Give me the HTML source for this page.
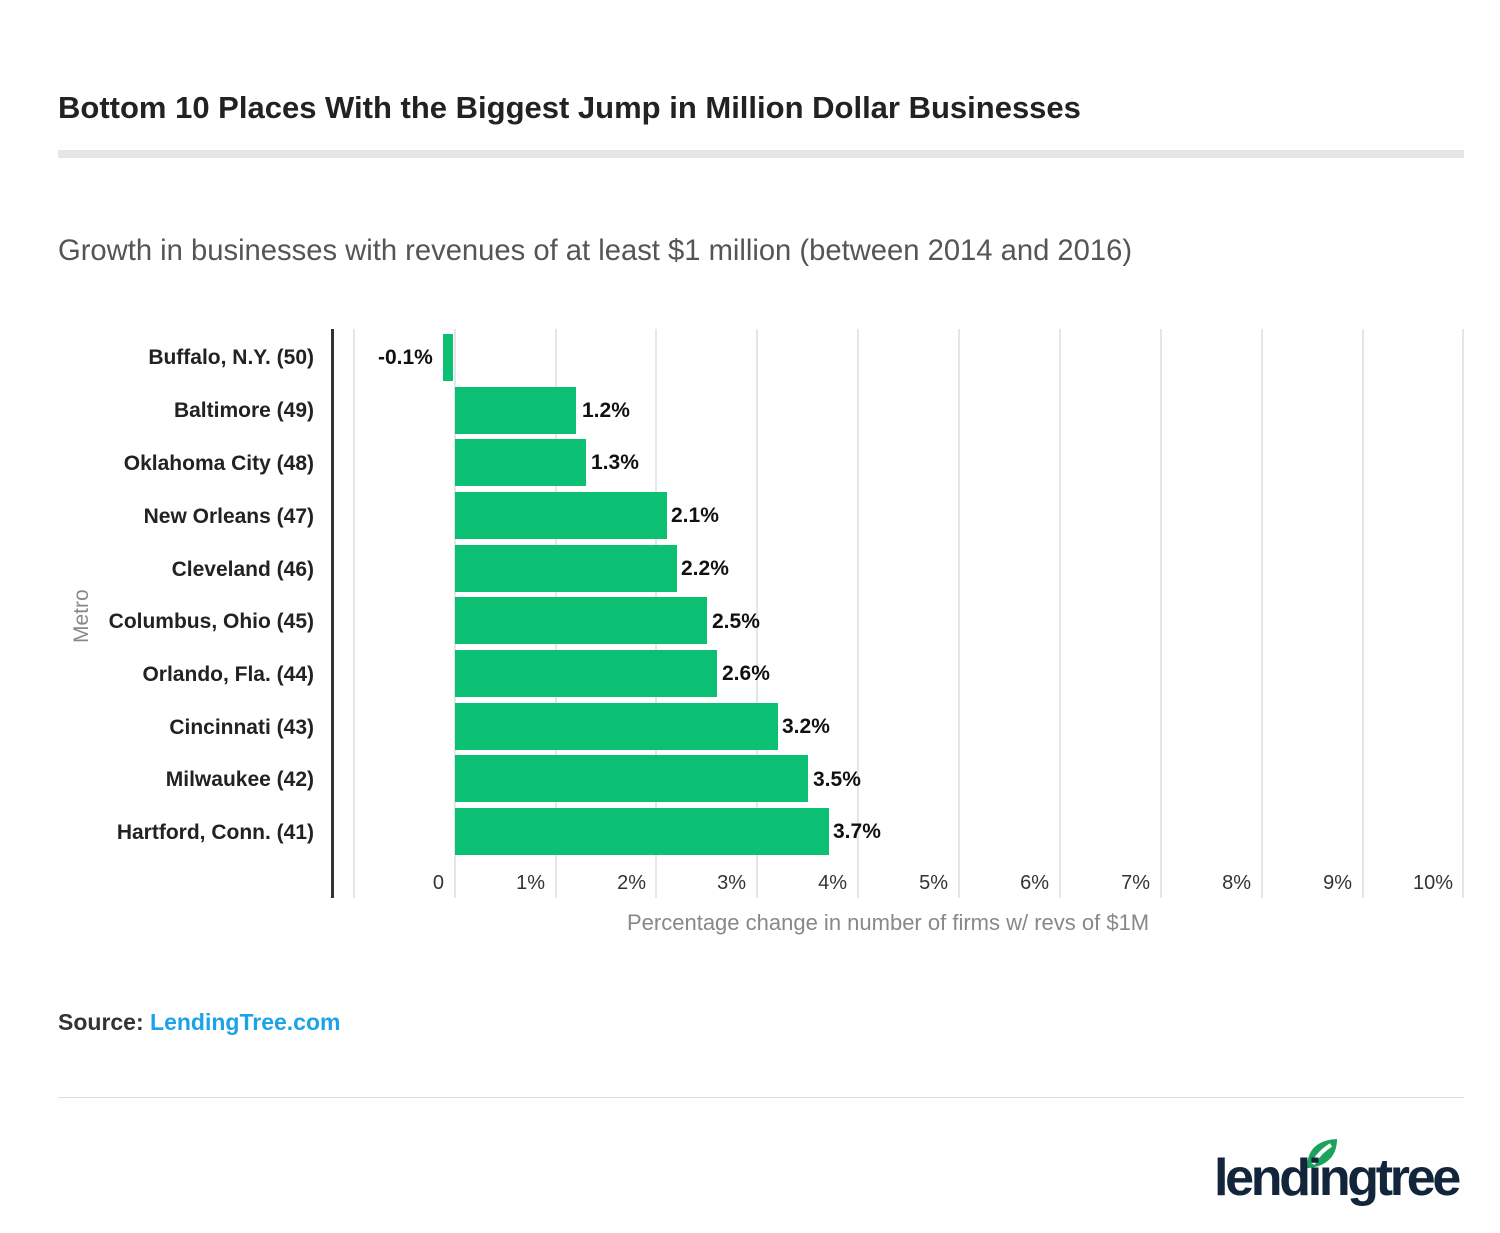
<!DOCTYPE html>
<html><head><meta charset="utf-8"><style>
body{margin:0;width:1500px;height:1233px;background:#fff;font-family:"Liberation Sans",Arial,sans-serif;position:relative;overflow:hidden}
.a{position:absolute;white-space:nowrap}
.lbl{position:absolute;right:1186px;font-size:21px;color:#222;font-weight:bold;text-align:right;width:300px}
.bar{position:absolute;background:#0bbf73;height:47px}
.val{position:absolute;font-size:21px;color:#111;font-weight:bold}
.g{position:absolute;top:329px;height:569px;width:2px;background:#e6e6e6}
.t{position:absolute;top:872px;font-size:20px;color:#333;text-align:right;width:60px}
</style></head><body>
<div class="a" style="left:58px;top:90px;font-size:31px;font-weight:bold;color:#222">Bottom 10 Places With the Biggest Jump in Million Dollar Businesses</div>
<div class="a" style="left:58px;top:150px;width:1406px;height:8px;background:#e6e6e6"></div>
<div class="a" style="left:58px;top:235px;font-size:29.2px;color:#555">Growth in businesses with revenues of at least $1 million (between 2014 and 2016)</div>
<div class="g" style="left:353px"></div><div class="g" style="left:454px"></div><div class="g" style="left:555px"></div><div class="g" style="left:655px"></div><div class="g" style="left:756px"></div><div class="g" style="left:857px"></div><div class="g" style="left:958px"></div><div class="g" style="left:1059px"></div><div class="g" style="left:1160px"></div><div class="g" style="left:1261px"></div><div class="g" style="left:1362px"></div><div class="g" style="left:1462px"></div>
<div class="a" style="left:331px;top:329px;width:3px;height:569px;background:#333"></div>
<div class="t" style="left:384px">0</div><div class="t" style="left:485px">1%</div><div class="t" style="left:586px">2%</div><div class="t" style="left:686px">3%</div><div class="t" style="left:787px">4%</div><div class="t" style="left:888px">5%</div><div class="t" style="left:989px">6%</div><div class="t" style="left:1090px">7%</div><div class="t" style="left:1191px">8%</div><div class="t" style="left:1292px">9%</div><div class="t" style="left:1393px">10%</div>
<div class="a" style="left:627px;top:910px;font-size:22px;color:#888">Percentage change in number of firms w/ revs of $1M</div>
<div class="a" style="left:70px;top:643px;font-size:21px;color:#888;transform:rotate(-90deg);transform-origin:0 0">Metro</div>

<div class="lbl" style="top:346px">Buffalo, N.Y. (50)</div>
<div class="bar" style="left:443px;top:334px;width:10px"></div><div class="val" style="left:378px;top:346px">-0.1%</div>
<div class="lbl" style="top:399px">Baltimore (49)</div>
<div class="bar" style="left:455px;top:387px;width:121px"></div><div class="val" style="left:582px;top:399px">1.2%</div>
<div class="lbl" style="top:452px">Oklahoma City (48)</div>
<div class="bar" style="left:455px;top:439px;width:131px"></div><div class="val" style="left:591px;top:451px">1.3%</div>
<div class="lbl" style="top:505px">New Orleans (47)</div>
<div class="bar" style="left:455px;top:492px;width:212px"></div><div class="val" style="left:671px;top:504px">2.1%</div>
<div class="lbl" style="top:558px">Cleveland (46)</div>
<div class="bar" style="left:455px;top:545px;width:222px"></div><div class="val" style="left:681px;top:557px">2.2%</div>
<div class="lbl" style="top:610px">Columbus, Ohio (45)</div>
<div class="bar" style="left:455px;top:597px;width:252px"></div><div class="val" style="left:712px;top:610px">2.5%</div>
<div class="lbl" style="top:663px">Orlando, Fla. (44)</div>
<div class="bar" style="left:455px;top:650px;width:262px"></div><div class="val" style="left:722px;top:662px">2.6%</div>
<div class="lbl" style="top:716px">Cincinnati (43)</div>
<div class="bar" style="left:455px;top:703px;width:323px"></div><div class="val" style="left:782px;top:715px">3.2%</div>
<div class="lbl" style="top:768px">Milwaukee (42)</div>
<div class="bar" style="left:455px;top:755px;width:353px"></div><div class="val" style="left:813px;top:768px">3.5%</div>
<div class="lbl" style="top:821px">Hartford, Conn. (41)</div>
<div class="bar" style="left:455px;top:808px;width:374px"></div><div class="val" style="left:833px;top:820px">3.7%</div>

<div class="a" style="left:58px;top:1009px;font-size:23px;font-weight:bold;color:#333">Source: <span style="color:#1aa3e8">LendingTree.com</span></div>
<div class="a" style="left:58px;top:1097px;width:1406px;height:1px;background:#ddd"></div>
<svg class="a" style="left:1303px;top:1136px" width="36" height="34" viewBox="0 0 36 34"><path d="M4 32 C4 14 14 4 34 3 C34 20 24 30 6 32 Z" fill="#19a35d"/><path d="M10 28 C14 20 20 14 28 9" stroke="#fff" stroke-width="4" fill="none"/></svg>
<div class="a" style="left:1214px;top:1148px;font-size:52px;font-weight:bold;color:#13253a;letter-spacing:-3.3px">lendingtree</div>
<div class="a" style="left:1452px;top:1173px;font-size:9px;color:#13253a">®</div>
</body></html>
